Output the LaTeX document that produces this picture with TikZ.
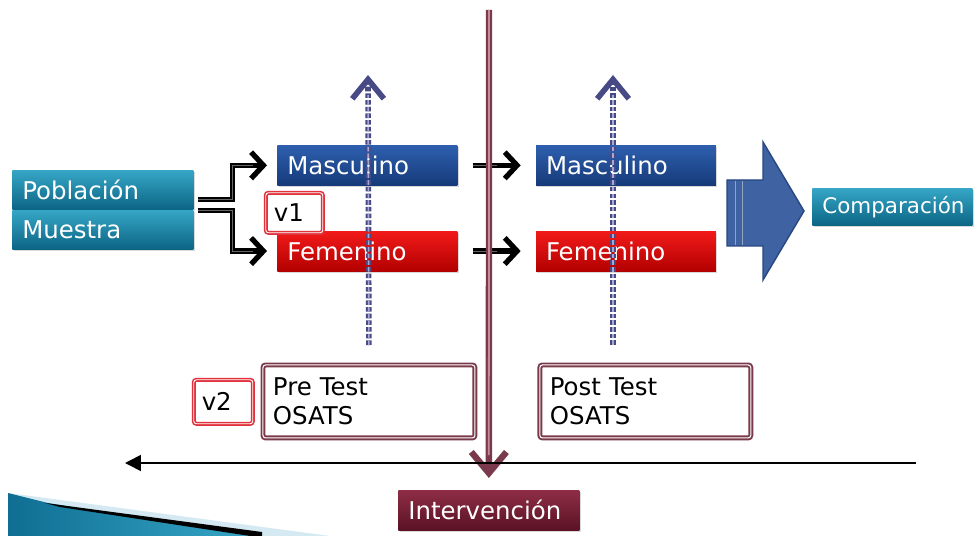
\documentclass[tikz,border=0pt]{standalone}
\usepackage{fontspec}
\setmainfont{DejaVu Sans}
\usetikzlibrary{positioning, calc, arrows.meta, shadows}
\definecolor{tealtop}{HTML}{36A6C6}
\definecolor{tealbot}{HTML}{0C6585}
\definecolor{bluetop}{HTML}{2E5FAE}
\definecolor{bluebot}{HTML}{163A79}
\definecolor{redtop}{HTML}{F21A1A}
\definecolor{redbot}{HTML}{B30000}
\definecolor{winetop}{HTML}{8E2D45}
\definecolor{winebot}{HTML}{5A1224}
\definecolor{wine}{HTML}{7B3A4B}
\definecolor{winelight}{HTML}{C78C9A}
\definecolor{vred}{HTML}{E0313C}
\definecolor{dashblue}{HTML}{474A85}
\definecolor{dashlight}{HTML}{A7A9D2}
\definecolor{bigblue}{HTML}{3E62A2}
\definecolor{bigblueline}{HTML}{294781}
\definecolor{swoopdark}{HTML}{0F6E92}
\definecolor{swooplight}{HTML}{D4E9F1}
\tikzset{
    box/.style      = {rectangle, anchor=north west, align=left, inner xsep=0.2cm, inner ysep=0pt, minimum height=0.8cm, text width=3.2cm, font=\fontsize{13.9}{16.5}\selectfont, drop shadow={shadow xshift=0.8pt, shadow yshift=-1.2pt, opacity=0.3}},
    tealbox/.style  = {box, top color=tealtop, bottom color=tealbot, text=white},
    bluebox/.style  = {box, top color=bluetop, bottom color=bluebot, text=white},
    redbox/.style   = {box, top color=redtop, bottom color=redbot, text=white},
    winebox/.style  = {box, top color=winetop, bottom color=winebot, text=white},
    testbox/.style  = {box, fill=white, draw=wine, line width=1.1pt, double=white, double distance=0.6pt, rounded corners=1.5pt, minimum height=1.46cm, text width=3.84cm, text=black},
    varbox/.style   = {box, fill=white, draw=vred, line width=0.9pt, double=white, double distance=0.5pt, rounded corners=1.5pt, inner xsep=0.16cm, text=black},
    barb/.style     = {draw=black, line width=3pt, -{Straight Barb[length=7pt, width=15pt]}},
    barbcore/.style = {draw=black!60, line width=0.5pt},
    dashline/.style = {draw=dashblue, line width=3.2pt, dash pattern=on 2.6pt off 1.2pt, -{Straight Barb[length=11pt, width=18pt]}},
    dashcore/.style = {draw=dashlight, line width=0.9pt, dash pattern=on 2.6pt off 1.2pt},
}
\begin{document}
\begin{tikzpicture}[x=0.02cm, y=-0.02cm]
  \fill[white] (0,0) rectangle (976,536);
  \useasboundingbox (0,0) rectangle (976,536);

  % slide corner
  \fill[swooplight] (8,493) -- (330,536) -- (8,536) -- cycle;
  \shade[left color=swoopdark, right color=tealtop] (8,493) -- (48,503) -- (250,536) -- (8,536) -- cycle;
  \fill[black] (45,503) -- (262,532) -- (262,536) -- (250,536) -- (60,507) -- cycle;

  % nodes
  \node[tealbox, text width=3.22cm, minimum height=0.78cm] (pob) at (12,170) {Población};
  \node[tealbox, text width=3.22cm, minimum height=0.78cm, below=0pt of pob] (mue) {Muestra};
  \node[bluebox] (mascA) at (277,145) {Masculino};
  \node[redbox, below=0.9cm of mascA] (femA) {Femenino};
  \node[bluebox, right=1.56cm of mascA] (mascB) {Masculino};
  \node[redbox, below=0.9cm of mascB] (femB) {Femenino};
  \node[varbox, text width=0.82cm] (vone) at (265,192) {v1};
  \node[testbox] (pre) at (262,364) {Pre Test\\OSATS};
  \node[testbox, text width=3.82cm, right=1.26cm of pre] (post) {Post Test\\OSATS};
  \node[varbox, text width=0.86cm, minimum height=0.88cm] (vtwo) at (193,379) {v2};
  \node[winebox, text width=3.22cm] (interv) at (398,490) {Intervención};
  \node[tealbox, text width=2.8cm, minimum height=0.74cm, font=\fontsize{12.2}{14}\selectfont] (comp) at (812,188) {Comparación};

  % free ends
  \coordinate (top) at (489,10);
  \coordinate (upA) at (368,75);
  \coordinate (lowB) at (613,345);
  \coordinate (upB) at (613,75);
  \coordinate (tlR) at (916,463);
  \coordinate (tlL) at (125,463);

  % split arrows
  \draw[barb, shorten >=0.2cm] ($(pob.south east)+(4,-10)$) -- ++(35,0) |- (mascA.west);
  \draw[barb, shorten >=0.2cm] ($(mue.north east)+(4,1)$) -- ++(35,0) |- (femA.west);
  \draw[barbcore] ($(pob.south east)+(4,-10)$) -- ++(35,0) |- ($(mascA.west)+(-24,0)$);
  \draw[barbcore] ($(mue.north east)+(4,1)$) -- ++(35,0) |- ($(femA.west)+(-24,0)$);
  \draw[barb, shorten <=0.3cm, shorten >=0.3cm] (mascA.east) -- (mascB.west);
  \draw[barb, shorten <=0.3cm, shorten >=0.3cm] (femA.east) -- (femB.west);
  \draw[barbcore, shorten <=0.3cm, shorten >=0.78cm] (mascA.east) -- (mascB.west);
  \draw[barbcore, shorten <=0.3cm, shorten >=0.78cm] (femA.east) -- (femB.west);

  % dashed arrows
  \draw[dashline, shorten <=0.38cm] (pre.north) -- (upA);
  \draw[dashcore, shorten <=0.38cm, shorten >=0.4cm] (pre.north) -- (upA);
  \draw[dashline] (lowB) -- (upB);
  \draw[dashcore, shorten >=0.4cm] (lowB) -- (upB);

  % intervention line
  \draw[wine, line width=3.6pt, shorten >=0.24cm, -{Straight Barb[length=12pt, width=20pt]}] (top) -- (interv.north);
  \draw[winelight, line width=1pt] (top) -- ([yshift=0.7cm]interv.north);

  % comparison arrow
  \filldraw[fill=bigblue, draw=bigblueline, line width=0.8pt] (727,180) -- (763,180) -- (763,142) -- (804,211) -- (763,280) -- (763,246) -- (727,246) -- cycle;
  \draw[bigblueline!50!white, line width=0.4pt] (735,181) -- (735,245) (742,181) -- (742,245);

  % time line
  \draw[line width=0.9pt, -{Triangle[length=9pt, width=9pt]}] (tlR) -- (tlL);
\end{tikzpicture}
\end{document}
